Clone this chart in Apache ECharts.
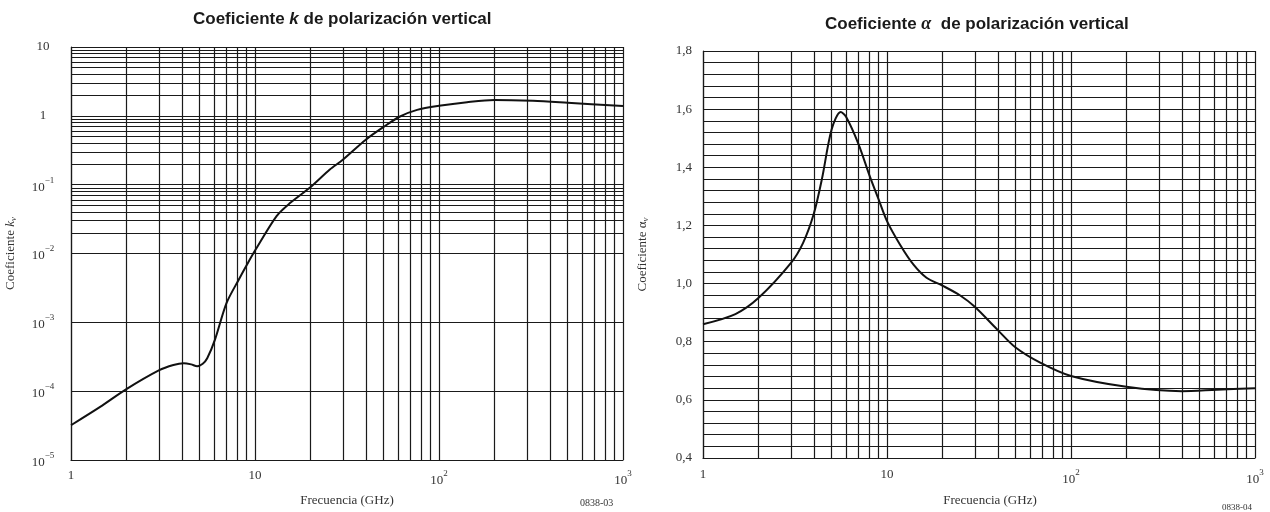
<!DOCTYPE html>
<html>
<head>
    <meta charset="utf-8">
    <title>Coeficientes k y alfa - polarización vertical</title>
    <script src="https://cdn.jsdelivr.net/npm/echarts@6/dist/echarts.min.js"></script>
    <style>
        body { margin: 0; background: #fff; }
        #main { width: 1270px; height: 512px; }
    </style>
</head>
<body>
    <div id="main"></div>
    <script type="text/javascript">
        // datos (frecuencia en GHz)
        var freqK = [1, 1.44, 2, 3, 3.6, 4.1, 4.5, 4.85, 5.2, 5.5, 6.06, 7, 8.17, 9.18, 10.1, 13.1, 15.5, 20.3, 25.5, 30, 40, 50, 61, 76, 100, 142, 200, 324, 500, 1000];
        var kV = [3.2e-5, 5.9e-5, 1.07e-4, 2.0e-4, 2.4e-4, 2.55e-4, 2.45e-4, 2.3e-4, 2.5e-4, 3.0e-4, 5.6e-4, 1.9e-3, 4.2e-3, 7.4e-3, 1.15e-2, 0.035, 0.054, 0.095, 0.166, 0.23, 0.45, 0.69, 0.97, 1.22, 1.40, 1.58, 1.70, 1.65, 1.55, 1.39];

        var freqA = [1, 1.5, 2, 3, 3.5, 4, 4.43, 5, 5.6, 6, 7, 8, 9, 10, 11.8, 13.9, 16.4, 20, 25, 30, 40, 50, 68, 100, 200, 400, 620, 1000];
        var alphaV = [0.86, 0.895, 0.95, 1.07, 1.14, 1.24, 1.36, 1.53, 1.59, 1.573, 1.48, 1.375, 1.29, 1.215, 1.133, 1.066, 1.02, 0.993, 0.959, 0.92, 0.84, 0.78, 0.728, 0.682, 0.645, 0.63, 0.635, 0.64];

        // rejilla logaritmica secundaria
        var decadeSteps = [2, 3, 4, 5, 6, 7, 8, 9];
        var freqDecades = [1, 10, 100];
        var kDecades = [1e-5, 1e-4, 1e-3, 1e-2, 1e-1, 1];

        var serif = 'Liberation Serif';
        var gridColor = '#1a1a1a';

        function minorValues(decades) {
            var out = [];
            decades.forEach(function (d) {
                decadeSteps.forEach(function (s) { out.push(s * d); });
            });
            return out;
        }

        function powLabel(v) {
            var n = Math.round(Math.log10(v));
            if (n === 0) return '1';
            if (n === 1) return '10';
            return '{b|10}{s|' + (n < 0 ? '\u2212' + (-n) : n) + '}';
        }

        var labelRich = {
            b: { fontFamily: serif, fontSize: 13, color: '#333', lineHeight: 18, verticalAlign: 'bottom' },
            s: { fontFamily: serif, fontSize: 9, color: '#333', lineHeight: 10, verticalAlign: 'top' }
        };

        function minorLines(xs, ys) {
            var data = [];
            xs.forEach(function (v) { data.push({ xAxis: v }); });
            ys.forEach(function (v) { data.push({ yAxis: v }); });
            return {
                silent: true,
                symbol: ['none', 'none'],
                label: { show: false },
                z: 1,
                lineStyle: { color: gridColor, width: 1.2, type: 'solid' },
                emphasis: { disabled: true },
                data: data
            };
        }

        var chart = echarts.init(document.getElementById('main'));

        var xAxisBase = {
            type: 'log',
            logBase: 10,
            min: 1,
            max: 1000,
            axisLine: { show: true, lineStyle: { color: gridColor, width: 1.2 } },
            axisTick: { show: false },
            splitLine: { show: true, lineStyle: { color: gridColor, width: 1.2 } },
            axisLabel: { formatter: powLabel, rich: labelRich, fontFamily: serif, fontSize: 13, color: '#333', margin: 9 },
            name: 'Frecuencia (GHz)',
            nameLocation: 'middle',
            nameGap: 34,
            nameTextStyle: { fontFamily: serif, fontSize: 13, color: '#333' }
        };

        chart.setOption({
            animation: false,
            backgroundColor: '#fff',
            title: [
                {
                    text: 'Coeficiente {i|k} de polarización vertical',
                    left: 193, top: 11, padding: 0,
                    textStyle: {
                        fontFamily: 'Liberation Sans', fontWeight: 'bold', fontSize: 17, color: '#1a1a1a',
                        rich: { i: { fontFamily: 'Liberation Sans', fontWeight: 'bold', fontStyle: 'italic', fontSize: 17, color: '#1a1a1a' } }
                    }
                },
                {
                    text: 'Coeficiente {a|\u03b1}  de polarización vertical',
                    left: 825, top: 15, padding: 0,
                    textStyle: {
                        fontFamily: 'Liberation Sans', fontWeight: 'bold', fontSize: 17, color: '#1a1a1a',
                        rich: { a: { fontFamily: serif, fontStyle: 'italic', fontSize: 18, color: '#1a1a1a' } }
                    }
                },
                {
                    text: '0838-03', left: 580, top: 498, padding: 0,
                    textStyle: { fontFamily: serif, fontSize: 10, fontWeight: 'normal', color: '#333' }
                },
                {
                    text: '0838-04', left: 1222, top: 503, padding: 0,
                    textStyle: { fontFamily: serif, fontSize: 9, fontWeight: 'normal', color: '#333' }
                }
            ],
            grid: [
                { left: 71, right: 647, top: 47, bottom: 50 },
                { left: 703, right: 15, top: 51, bottom: 47 }
            ],
            xAxis: [
                Object.assign({}, xAxisBase, { gridIndex: 0 }),
                Object.assign({}, xAxisBase, {
                    gridIndex: 1,
                    axisLabel: Object.assign({}, xAxisBase.axisLabel, { margin: 10 }),
                    nameGap: 36,
                    nameTextStyle: { fontFamily: serif, fontSize: 13, color: '#333', padding: [0, 0, 0, 22] }
                })
            ],
            yAxis: [
                {
                    type: 'log',
                    logBase: 10,
                    gridIndex: 0,
                    min: 1e-5,
                    max: 10,
                    axisLine: { show: true, lineStyle: { color: gridColor, width: 1.2 } },
                    axisTick: { show: false },
                    splitLine: { show: true, lineStyle: { color: gridColor, width: 1.2 } },
                    axisLabel: { formatter: powLabel, rich: labelRich, fontFamily: serif, fontSize: 13, color: '#333', align: 'center', margin: 28 },
                    name: 'Coeficiente {i|k}{s|v}',
                    nameLocation: 'middle',
                    nameGap: 53,
                    nameTextStyle: {
                        fontFamily: serif, fontSize: 13, color: '#333',
                        rich: {
                            i: { fontFamily: serif, fontStyle: 'italic', fontSize: 13, color: '#333' },
                            s: { fontFamily: serif, fontStyle: 'italic', fontSize: 9, color: '#333', verticalAlign: 'bottom', lineHeight: 14 }
                        }
                    }
                },
                {
                    type: 'value',
                    gridIndex: 1,
                    min: 0.4,
                    max: 1.8,
                    interval: 0.2,
                    axisLine: { show: true, lineStyle: { color: gridColor, width: 1.2 } },
                    axisTick: { show: false },
                    minorTick: { show: false, splitNumber: 5 },
                    splitLine: { show: true, lineStyle: { color: gridColor, width: 1.2 } },
                    minorSplitLine: { show: true, lineStyle: { color: gridColor, width: 1.2 } },
                    axisLabel: {
                        formatter: function (v) { return v.toFixed(1).replace('.', ','); },
                        fontFamily: serif, fontSize: 13, color: '#333', margin: 11
                    },
                    name: 'Coeficiente \u03b1{s|v}',
                    nameLocation: 'middle',
                    nameGap: 53,
                    nameTextStyle: {
                        fontFamily: serif, fontSize: 13, color: '#333',
                        rich: {
                            s: { fontFamily: serif, fontStyle: 'italic', fontSize: 9, color: '#333', verticalAlign: 'bottom', lineHeight: 14 }
                        }
                    }
                }
            ],
            series: [
                {
                    type: 'line',
                    xAxisIndex: 0,
                    yAxisIndex: 0,
                    data: freqK.map(function (f, i) { return [f, kV[i]]; }),
                    showSymbol: false,
                    smooth: 0.3,
                    z: 3,
                    lineStyle: { color: '#111', width: 2 },
                    markLine: minorLines(minorValues(freqDecades), minorValues(kDecades))
                },
                {
                    type: 'line',
                    xAxisIndex: 1,
                    yAxisIndex: 1,
                    data: freqA.map(function (f, i) { return [f, alphaV[i]]; }),
                    showSymbol: false,
                    smooth: 0.3,
                    z: 3,
                    lineStyle: { color: '#111', width: 2 },
                    markLine: minorLines(minorValues(freqDecades), [])
                }
            ]
        });
    </script>
</body>
</html>
